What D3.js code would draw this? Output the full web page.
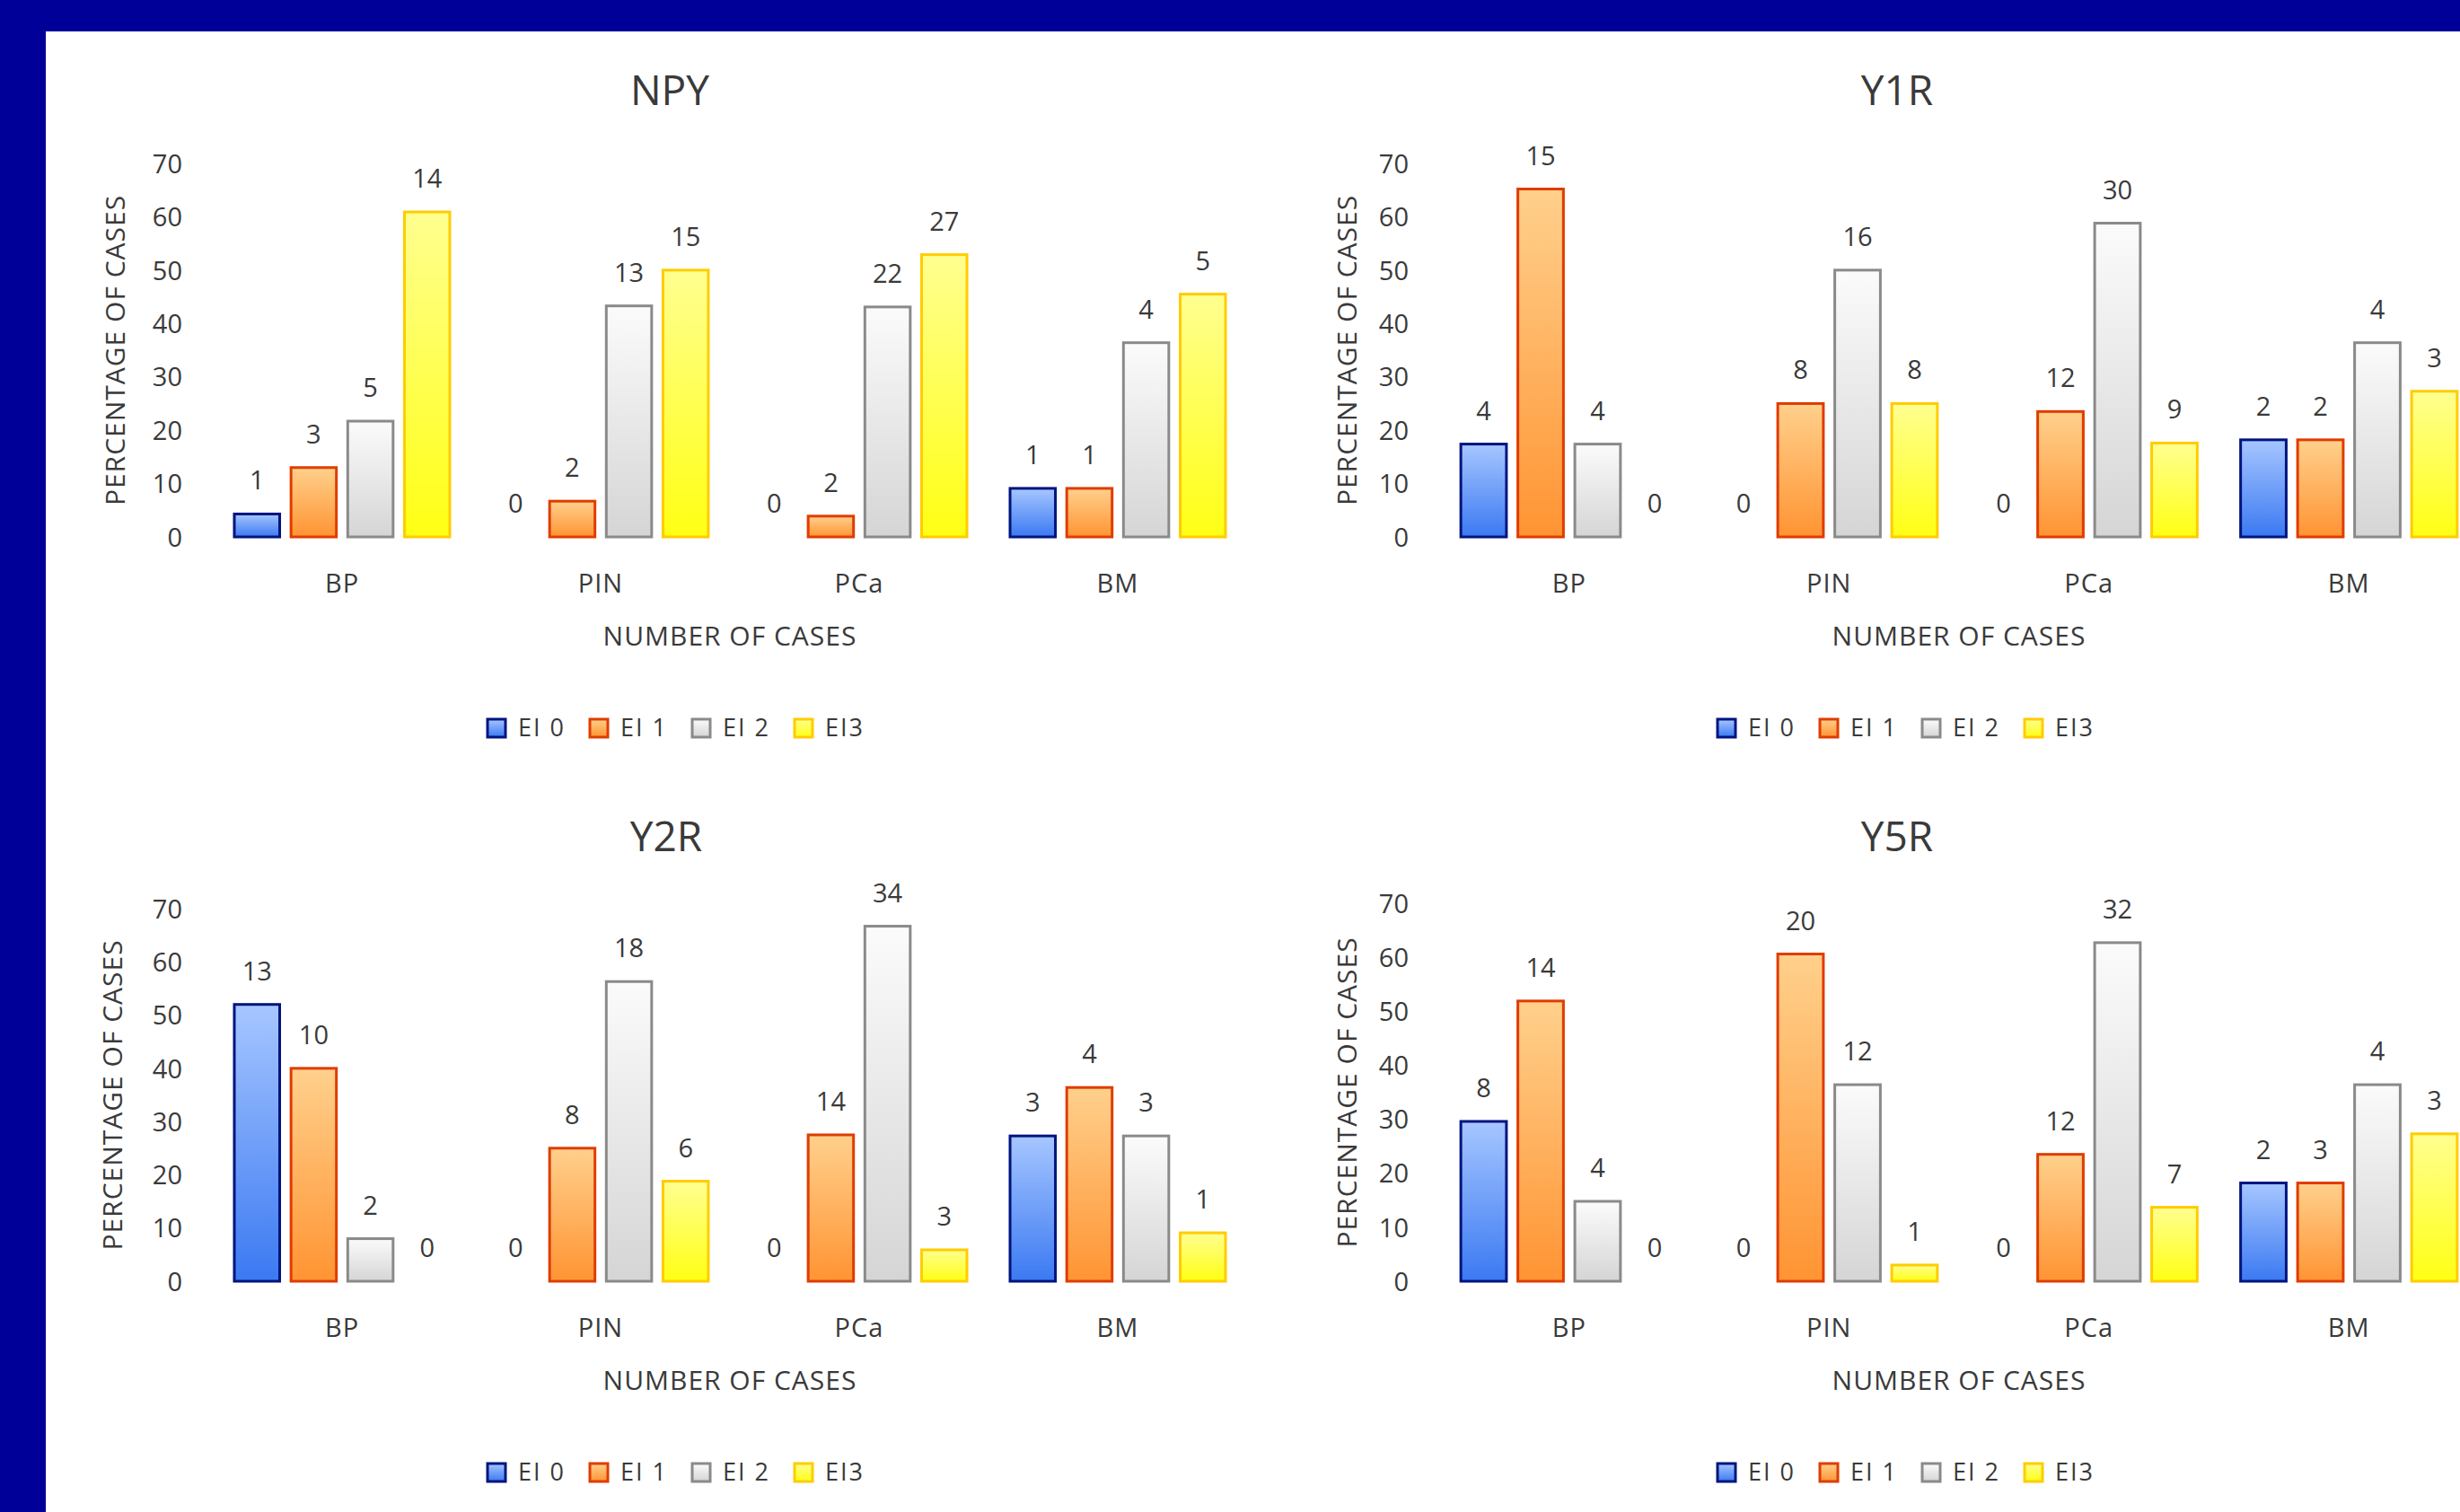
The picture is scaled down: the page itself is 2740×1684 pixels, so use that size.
<!DOCTYPE html>
<html>
<head>
<meta charset="utf-8">
<script src="https://cdn.jsdelivr.net/npm/d3@7"></script>
<style>
  html, body { margin: 0; padding: 0; background: #000099; }
  svg { display: block; }
  text { font-family: "Open Sans", "Noto Sans", sans-serif; fill: #3a3a3a; }
</style>
</head>
<body>
<svg id="chart" width="2740" height="1684"></svg>
<script>
// ---------- data ----------
const categories = ["BP", "PIN", "PCa", "BM"];
const seriesNames = ["EI 0", "EI 1", "EI 2", "EI3"];
const yTicks = [0, 10, 20, 30, 40, 50, 60, 70];
const panelTitles = ["NPY", "Y1R", "Y2R", "Y5R"];

// percentages (bar heights), per category: [EI 0, EI 1, EI 2, EI3]
const npyPercent = [[4.3, 13.0, 21.7, 60.9], [0, 6.7, 43.3, 50.0], [0, 3.9, 43.1, 52.9], [9.1, 9.1, 36.4, 45.5]];
const npyCounts  = [[1, 3, 5, 14], [0, 2, 13, 15], [0, 2, 22, 27], [1, 1, 4, 5]];

const y1rPercent = [[17.4, 65.2, 17.4, 0], [0, 25.0, 50.0, 25.0], [0, 23.5, 58.8, 17.6], [18.2, 18.2, 36.4, 27.3]];
const y1rCounts  = [[4, 15, 4, 0], [0, 8, 16, 8], [0, 12, 30, 9], [2, 2, 4, 3]];

const y2rPercent = [[52.0, 40.0, 8.0, 0], [0, 25.0, 56.3, 18.8], [0, 27.5, 66.7, 5.9], [27.3, 36.4, 27.3, 9.1]];
const y2rCounts  = [[13, 10, 2, 0], [0, 8, 18, 6], [0, 14, 34, 3], [3, 4, 3, 1]];

const y5rPercent = [[29.6, 51.9, 14.8, 0], [0, 60.6, 36.4, 3.0], [0, 23.5, 62.7, 13.7], [18.2, 18.2, 36.4, 27.3]];
const y5rCounts  = [[8, 14, 4, 0], [0, 20, 12, 1], [0, 12, 32, 7], [2, 3, 4, 3]];

// ---------- styles ----------
const fills = [
  { top: "#a6c6ff", bottom: "#3b79f2", stroke: "#00147f" },
  { top: "#ffd08c", bottom: "#ff9433", stroke: "#e03c00" },
  { top: "#fbfbfb", bottom: "#d5d5d5", stroke: "#8a8a8a" },
  { top: "#ffff90", bottom: "#ffff14", stroke: "#ffcc00" }
];

const panels = [
  { title: panelTitles[0], pct: npyPercent, cnt: npyCounts, x: [237, 1389], y: [598, 182], titleX: 746, titleY: 101, axisX: 128, legendX: 542 },
  { title: panelTitles[1], pct: y1rPercent, cnt: y1rCounts, x: [1603, 2761], y: [598, 182], titleX: 2113, titleY: 101, axisX: 1500, legendX: 1912 },
  { title: panelTitles[2], pct: y2rPercent, cnt: y2rCounts, x: [237, 1389], y: [1427, 1012], titleX: 742, titleY: 932, axisX: 125, legendX: 542 },
  { title: panelTitles[3], pct: y5rPercent, cnt: y5rCounts, x: [1603, 2761], y: [1427, 1006], titleX: 2113, titleY: 932, axisX: 1500, legendX: 1912 }
];

const svg = d3.select("#chart");
svg.append("rect").attr("x", 0).attr("y", 0).attr("width", 2740).attr("height", 1684).attr("fill", "#000099");
svg.append("rect").attr("x", 51).attr("y", 35).attr("width", 2740 - 51).attr("height", 1684 - 35).attr("fill", "#ffffff");

const defs = svg.append("defs");
fills.forEach((f, i) => {
  const g = defs.append("linearGradient").attr("id", "grad" + i)
    .attr("x1", 0).attr("y1", 0).attr("x2", 0).attr("y2", 1);
  g.append("stop").attr("offset", "0%").attr("stop-color", f.top);
  g.append("stop").attr("offset", "100%").attr("stop-color", f.bottom);
});

panels.forEach(p => {
  const g = svg.append("g");
  const x0 = d3.scaleBand().domain(categories).range(p.x).paddingInner(0.1667).paddingOuter(0.0833);
  const x1 = d3.scaleBand().domain(seriesNames).range([0, x0.bandwidth()]).paddingInner(0.2);
  const y = d3.scaleLinear().domain([0, 70]).range(p.y);
  const base = y(0);

  // title
  g.append("text").attr("x", p.titleX).attr("y", p.titleY).attr("dy", "0.35em")
    .attr("text-anchor", "middle").style("font-size", "46px").text(p.title);

  // y axis (labels only)
  const yAxis = d3.axisLeft(y).tickValues(yTicks).tickSize(0).tickPadding(0);
  const ya = g.append("g").attr("transform", `translate(${p.x[0] - 34},0)`).call(yAxis);
  ya.select(".domain").remove();
  ya.selectAll("text").style("font-size", "29px").style("font-family", null).attr("fill", "#3a3a3a").attr("dy", "0.35em");

  // y axis title
  g.append("text")
    .attr("transform", `translate(${p.axisX},${(y(0) + y(70)) / 2}) rotate(-90)`)
    .attr("text-anchor", "middle").attr("dy", "0.35em")
    .style("font-size", "30px").style("letter-spacing", "1px")
    .text("PERCENTAGE  OF  CASES");

  // x axis (category labels)
  const xAxis = d3.axisBottom(x0).tickSize(0).tickPadding(0);
  const xa = g.append("g").attr("transform", `translate(0,${base + 52})`).call(xAxis);
  xa.select(".domain").remove();
  xa.selectAll("text").style("font-size", "29px").style("font-family", null).attr("fill", "#3a3a3a")
    .attr("y", 0).attr("dy", "0.35em").style("letter-spacing", "1px");

  // x axis title
  g.append("text").attr("x", (p.x[0] + p.x[1]) / 2).attr("y", base + 110).attr("dy", "0.35em")
    .attr("text-anchor", "middle").style("font-size", "30px").style("letter-spacing", "1px")
    .text("NUMBER  OF CASES");

  // bars
  const data = [];
  categories.forEach((c, ci) => seriesNames.forEach((s, si) => {
    data.push({ c, s, si, v: p.pct[ci][si], n: p.cnt[ci][si] });
  }));

  g.selectAll("rect.bar").data(data.filter(d => d.v > 0)).join("rect")
    .attr("class", "bar")
    .attr("x", d => x0(d.c) + x1(d.s))
    .attr("y", d => y(d.v))
    .attr("width", x1.bandwidth())
    .attr("height", d => base - y(d.v))
    .attr("fill", d => `url(#grad${d.si})`)
    .attr("stroke", d => fills[d.si].stroke)
    .attr("stroke-width", 3);

  g.selectAll("text.val").data(data).join("text")
    .attr("class", "val")
    .attr("x", d => x0(d.c) + x1(d.s) + x1.bandwidth() / 2)
    .attr("y", d => y(d.v) - 27)
    .attr("text-anchor", "middle")
    .style("font-size", "29px")
    .text(d => d.n);

  // legend
  const lg = g.append("g").attr("transform", `translate(${p.legendX},${base + 213})`);
  seriesNames.forEach((s, i) => {
    const item = lg.append("g").attr("transform", `translate(${i * 114},0)`);
    item.append("rect").attr("x", 1).attr("y", -10).attr("width", 20).attr("height", 20)
      .attr("fill", `url(#grad${i})`).attr("stroke", fills[i].stroke).attr("stroke-width", 3);
    item.append("text").attr("x", 35).attr("y", 0).attr("dy", "0.35em")
      .style("font-size", "27px").style("letter-spacing", "2px").text(s);
  });
});
</script>
</body>
</html>
